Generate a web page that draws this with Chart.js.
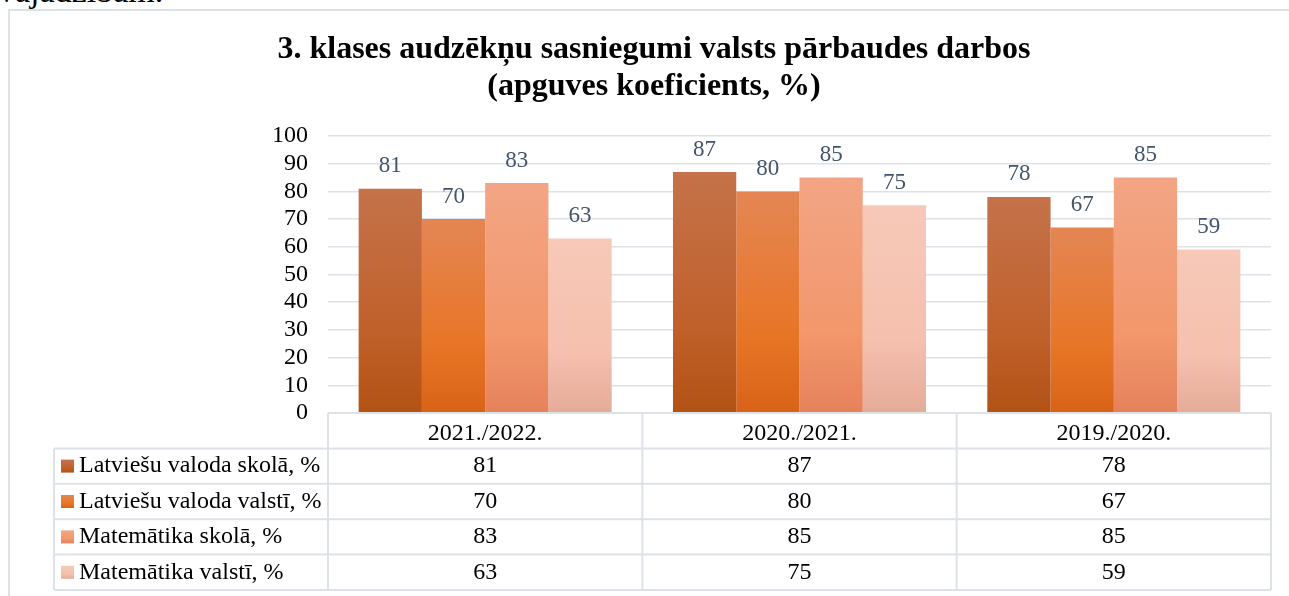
<!DOCTYPE html>
<html>
<head>
<meta charset="utf-8">
<title>3. klases audzēkņu sasniegumi</title>
<script src="https://cdn.jsdelivr.net/npm/chart.js"></script>
<style>
  html, body { margin: 0; padding: 0; background: #fff; overflow: hidden; }
  body { width: 1289px; height: 596px; position: relative; }
  #doctext { position: absolute; left: -2px; top: -26px; font: 34px/34px "Liberation Serif", serif; color: #000; white-space: nowrap; }
  #frame { position: absolute; left: 8px; top: 9px; width: 1300px; height: 700px; border: 2px solid #dde1e8; }
  #wrap { position: absolute; left: 0; top: 0; width: 1289px; height: 596px; }
</style>
</head>
<body>
<div id="doctext">vajadzībām.</div>
<div id="frame"></div>
<div id="wrap"><canvas id="mycanvas"></canvas></div>
<script>
var years = ['2021./2022.', '2020./2021.', '2019./2020.'];
var seriesNames = ['Latviešu valoda skolā, %', 'Latviešu valoda valstī, %', 'Matemātika skolā, %', 'Matemātika valstī, %'];
var latvSkola = [81, 87, 78];
var latvValsti = [70, 80, 67];
var matSkola = [83, 85, 85];
var matValsti = [63, 75, 59];

// top / middle / bottom of each bar gradient
var fills = [
  ['#c5724a', '#c0602a', '#b25214'],
  ['#e48654', '#e87526', '#d86318'],
  ['#f2a585', '#f3976c', '#e5825c'],
  ['#f7c9b8', '#f6c0ae', '#e4ab98']
];

var serif = '"Liberation Serif", "Times New Roman", serif';
var gridColor = '#dde1e8';

function makeGradient(c, stops, top, bottom) {
  var g = c.createLinearGradient(0, top, 0, bottom);
  g.addColorStop(0, stops[0]);
  g.addColorStop(0.65, stops[1]);
  g.addColorStop(1, stops[2]);
  return g;
}

function barFill(stops) {
  return function (ctx) {
    var chart = ctx.chart;
    if (!chart.chartArea || ctx.type !== 'data') return stops[1];
    var y = chart.scales.y;
    return makeGradient(chart.ctx, stops, y.getPixelForValue(ctx.raw), y.getPixelForValue(0));
  };
}

var valueLabels = {
  id: 'valueLabels',
  afterDatasetsDraw: function (chart) {
    var c = chart.ctx;
    c.save();
    c.font = '23px ' + serif;
    c.fillStyle = '#44546a';
    c.textAlign = 'center';
    c.textBaseline = 'alphabetic';
    chart.data.datasets.forEach(function (ds, i) {
      chart.getDatasetMeta(i).data.forEach(function (bar, j) {
        c.fillText(ds.data[j], bar.x, bar.y - 16.5);
      });
    });
    c.restore();
  }
};

// data table under the plot
var dataTable = {
  id: 'dataTable',
  afterDraw: function (chart) {
    var c = chart.ctx;
    var area = chart.chartArea;
    var rowH = 35.4;
    var tableLeft = 54;
    var top = area.bottom;
    var nRows = chart.data.datasets.length;
    var bottom = top + rowH * (nRows + 1);
    var colW = (area.right - area.left) / years.length;

    c.save();
    c.strokeStyle = gridColor;
    c.lineWidth = 2;
    c.beginPath();
    c.moveTo(area.left, top);
    c.lineTo(area.right, top);
    for (var r = 1; r <= nRows + 1; r++) {
      c.moveTo(tableLeft, top + rowH * r);
      c.lineTo(area.right, top + rowH * r);
    }
    c.moveTo(tableLeft, top + rowH);
    c.lineTo(tableLeft, bottom);
    for (var k = 0; k <= years.length; k++) {
      c.moveTo(area.left + colW * k, top);
      c.lineTo(area.left + colW * k, bottom);
    }
    c.stroke();

    c.font = '24px ' + serif;
    c.fillStyle = '#000';
    c.textBaseline = 'middle';
    chart.data.datasets.forEach(function (ds, i) {
      var cy = top + rowH * (i + 1) + rowH / 2;
      c.fillStyle = makeGradient(c, fills[i], cy - 6.5, cy + 6.5);
      c.fillRect(61, cy - 6.5, 13, 13);
      c.fillStyle = '#000';
      c.textAlign = 'left';
      c.fillText(ds.label, 79, cy);
      c.textAlign = 'center';
      ds.data.forEach(function (v, j) {
        c.fillText(v, chart.scales.x.getPixelForValue(j), cy);
      });
    });
    c.restore();
  }
};

var chartdata = {
  labels: years,
  datasets: [
    { label: seriesNames[0], data: latvSkola, backgroundColor: barFill(fills[0]) },
    { label: seriesNames[1], data: latvValsti, backgroundColor: barFill(fills[1]) },
    { label: seriesNames[2], data: matSkola, backgroundColor: barFill(fills[2]) },
    { label: seriesNames[3], data: matValsti, backgroundColor: barFill(fills[3]) }
  ]
};

var ctx = document.getElementById('mycanvas');
var barGraph = new Chart(ctx, {
  type: 'bar',
  data: chartdata,
  plugins: [valueLabels, dataTable],
  options: {
    responsive: true,
    maintainAspectRatio: false,
    animation: false,
    categoryPercentage: 0.805,
    barPercentage: 1,
    layout: { padding: { left: 37, right: 18, top: 0, bottom: 148 } },
    plugins: {
      legend: { display: false },
      tooltip: { enabled: false },
      title: {
        display: true,
        text: ['3. klases audzēkņu sasniegumi valsts pārbaudes darbos', '(apguves koeficients, %)'],
        color: '#000',
        font: { family: serif, size: 32, weight: 'bold', lineHeight: 37 / 32 },
        padding: { top: 31.5, bottom: 30.5 }
      }
    },
    scales: {
      x: {
        grid: { display: false },
        border: { display: false },
        ticks: { color: '#000', font: { family: serif, size: 24 }, padding: -2 },
        afterFit: function (scale) { scale.height = 35; }
      },
      y: {
        min: 0,
        max: 100,
        ticks: { stepSize: 10, autoSkip: false, color: '#000', font: { family: serif, size: 24 }, padding: 20 },
        grid: { color: gridColor, lineWidth: 1.5, drawTicks: false },
        border: { display: false },
        afterFit: function (scale) { scale.width = 291; }
      }
    }
  }
});
</script>
</body>
</html>
